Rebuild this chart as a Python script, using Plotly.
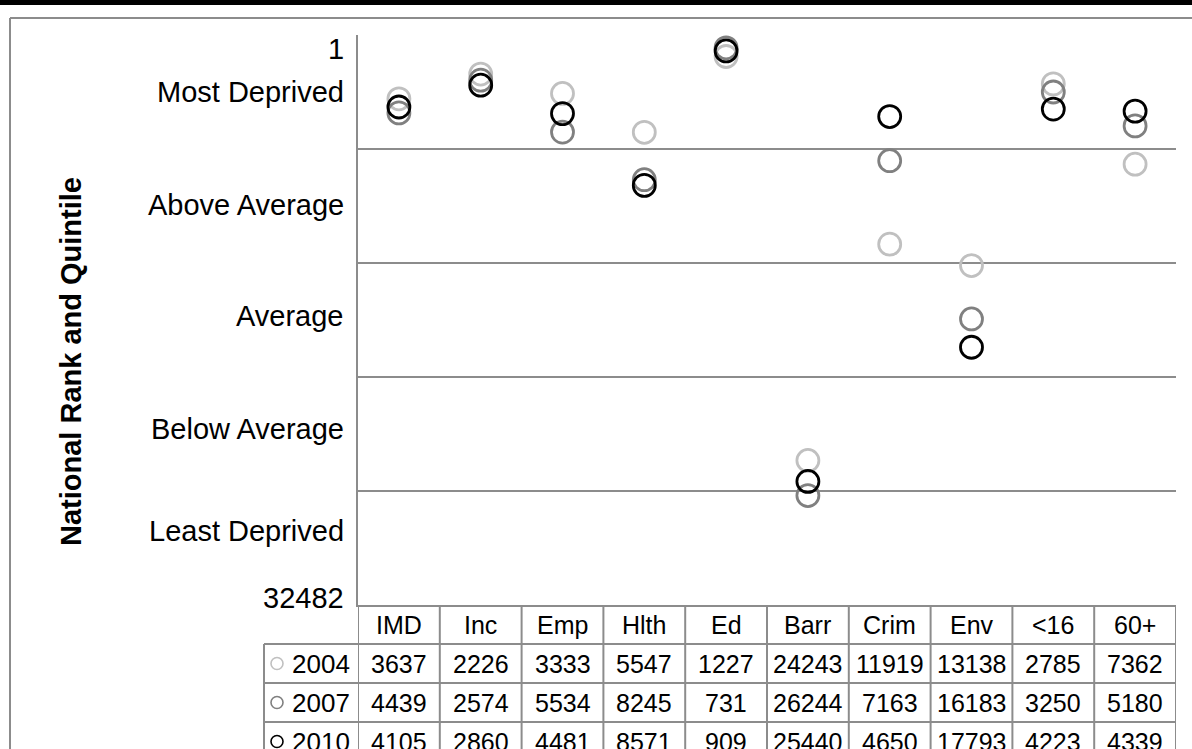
import plotly.graph_objects as go

# Deprivation domains (columns of the data table)
domains = ["IMD", "Inc", "Emp", "Hlth", "Ed", "Barr", "Crim", "Env", "<16", "60+"]
years = ["2004", "2007", "2010"]

# National rank for each year (1 = most deprived, 32482 = least deprived)
rank_2004 = [3637, 2226, 3333, 5547, 1227, 24243, 11919, 13138, 2785, 7362]
rank_2007 = [4439, 2574, 5534, 8245, 731, 26244, 7163, 16183, 3250, 5180]
rank_2010 = [4105, 2860, 4481, 8571, 909, 25440, 4650, 17793, 4223, 4339]

n_areas = 32482
quintile_labels = ["Most Deprived", "Above Average", "Average", "Below Average", "Least Deprived"]

series = [rank_2004, rank_2007, rank_2010]
colors = ["#c0c0c0", "#808080", "#000000"]

FONT = "Arial, Liberation Sans, sans-serif"
GRID = "#8c8c8c"

# plot area in pixels (for converting table rows to paper coords)
L, R, T, B = 358, 16, 35, 144
W, H = 1192 - L - R, 749 - T - B


def px_x(px):
    return (px - L) / W


def px_y(py):
    return (749 - B - py) / H


fig = go.Figure()

for yr, vals, col in zip(years, series, colors):
    fig.add_trace(go.Scatter(
        x=domains,
        y=vals,
        mode="markers",
        name=yr,
        marker=dict(symbol="circle-open", size=22, color=col, line=dict(width=2.8, color=col)),
        showlegend=False,
    ))

# quintile boundaries as gridlines
step = (n_areas - 1) / 5
grid_vals = [1 + step * k for k in range(1, 5)]

fig.update_layout(
    width=1192,
    height=749,
    margin=dict(l=L, r=R, t=T, b=B),
    paper_bgcolor="white",
    plot_bgcolor="white",
    font=dict(family=FONT, color="black"),
    xaxis=dict(
        type="category",
        categoryorder="array",
        categoryarray=domains,
        range=[-0.5, len(domains) - 0.5],
        showticklabels=False,
        showgrid=False,
        zeroline=False,
        showline=True,
        linecolor=GRID,
        linewidth=2,
        ticks="",
    ),
    yaxis=dict(
        range=[n_areas, 1],
        tickvals=grid_vals,
        showticklabels=False,
        showgrid=True,
        gridcolor=GRID,
        gridwidth=2,
        zeroline=False,
        showline=True,
        linecolor=GRID,
        linewidth=2,
        ticks="",
    ),
)

shapes = []
annotations = []

# outer chart border and black strip on top
shapes.append(dict(type="rect", xref="paper", yref="paper",
                   x0=px_x(-5), x1=px_x(1200), y0=px_y(-5), y1=px_y(5),
                   fillcolor="black", line=dict(width=0), layer="above"))
shapes.append(dict(type="line", xref="paper", yref="paper",
                   x0=px_x(10), x1=px_x(1200), y0=px_y(18), y1=px_y(18),
                   line=dict(color=GRID, width=2)))
shapes.append(dict(type="line", xref="paper", yref="paper",
                   x0=px_x(10), x1=px_x(10), y0=px_y(18), y1=px_y(760),
                   line=dict(color=GRID, width=2)))

# y axis labels
label_pos = [(str(1), 49), (quintile_labels[0], 92), (quintile_labels[1], 205),
             (quintile_labels[2], 316), (quintile_labels[3], 429),
             (quintile_labels[4], 531), (str(n_areas), 598)]
for txt, py in label_pos:
    annotations.append(dict(text=txt, xref="paper", yref="paper",
                            x=px_x(346), y=px_y(py), xanchor="right", yanchor="middle",
                            showarrow=False, font=dict(size=29, family=FONT)))

annotations.append(dict(text="<b>National Rank and Quintile</b>", xref="paper", yref="paper",
                        x=px_x(71), y=px_y(362), textangle=-90,
                        xanchor="center", yanchor="middle", showarrow=False,
                        font=dict(size=29, family=FONT)))

# data table under the plot
row_edges = [605, 644, 683, 722, 761]
row_mid = [(a + b) / 2 for a, b in zip(row_edges[:-1], row_edges[1:])]

# horizontal rules
for py in row_edges[1:]:
    shapes.append(dict(type="line", xref="paper", yref="paper",
                       x0=px_x(264), x1=1, y0=px_y(py), y1=px_y(py),
                       line=dict(color=GRID, width=2)))
# vertical rules at column edges
for k in range(len(domains) + 1):
    shapes.append(dict(type="line", xref="x", yref="paper",
                       x0=k - 0.5, x1=k - 0.5, y0=0, y1=px_y(row_edges[-1]),
                       line=dict(color=GRID, width=2)))
shapes.append(dict(type="line", xref="paper", yref="paper",
                   x0=px_x(264), x1=px_x(264), y0=px_y(row_edges[1]), y1=px_y(row_edges[-1]),
                   line=dict(color=GRID, width=2)))

# header
for d in domains:
    annotations.append(dict(text=d.replace("<", "&lt;"), xref="x", yref="paper",
                            x=d, y=px_y(row_mid[0]), yanchor="middle",
                            showarrow=False, font=dict(size=25, family=FONT)))

# rows
for i, (yr, vals, col) in enumerate(zip(years, series, colors)):
    ym = px_y(row_mid[i + 1])
    shapes.append(dict(type="circle", xref="paper", yref="paper",
                       xsizemode="pixel", ysizemode="pixel",
                       xanchor=px_x(277), yanchor=ym, x0=-6, x1=6, y0=-6, y1=6,
                       line=dict(color=col, width=1.6)))
    annotations.append(dict(text=yr, xref="paper", yref="paper",
                            x=px_x(352), y=ym, xanchor="right", yanchor="middle",
                            showarrow=False, font=dict(size=26, family=FONT)))
    for d, v in zip(domains, vals):
        annotations.append(dict(text=str(v), xref="x", yref="paper",
                                x=d, y=ym, yanchor="middle",
                                showarrow=False, font=dict(size=25, family=FONT)))

fig.update_layout(shapes=shapes, annotations=annotations)

# drop the browser's default body margin so the figure sits at the page origin
fig.write_html("out.html", config={"displayModeBar": False},
               post_script="document.body.style.margin='0';")
